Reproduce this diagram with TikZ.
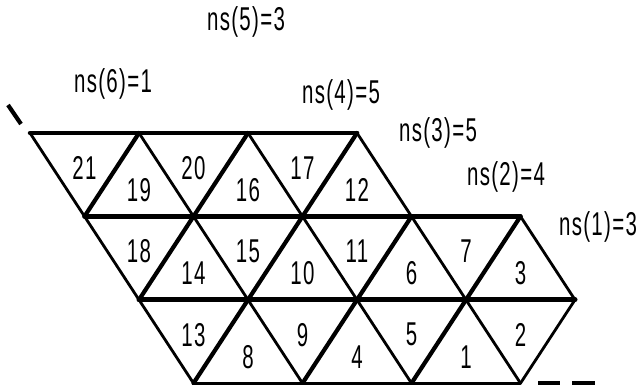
\documentclass[tikz,border=0pt]{standalone}
\usepackage{fontspec}
\setmainfont{Liberation Sans}[FakeStretch=0.62, LetterSpace=4]
\begin{document}
\begin{tikzpicture}[x=1pt,y=-1pt,
  thinedge/.style={line width=2.8pt, line cap=round},
  thickedge/.style={line width=4.2pt, line cap=round},
  rowedge/.style={line width=4.5pt, line cap=round},
  baseedge/.style={line width=2.6pt, line cap=round},
  markedge/.style={line width=4.2pt},
  lab/.style={inner sep=0pt, font=\fontsize{33}{33}\selectfont}]
\useasboundingbox (0,0) rectangle (640,385);
% vertices
\foreach \r/\n in {0/3,1/4,2/4,3/3}
  \foreach \i in {0,...,\n}
    \coordinate (v\r\i) at ({30+\r*54.5+\i*109},{133+\r*83.4});
% "\" edges
\foreach \a/\b in {00/10,01/11,02/12,03/13,10/20,11/21,12/22,13/23,14/24,20/30,21/31,22/32,23/33}
  \draw[thinedge] (v\a) -- (v\b);
% "/" edges
\draw[thinedge] (v24) -- (v33);
\foreach \a/\b in {01/10,02/11,03/12,11/20,12/21,13/22,14/23,21/30,22/31,23/32}
  \draw[thickedge] (v\a) -- (v\b);
% horizontal edges
\draw[rowedge] (v00) -- (v03);
\draw[rowedge] (v10) -- (v14);
\draw[rowedge, line width=5pt] (v20) -- (v24);
\draw[baseedge] (v30) -- (v33);
% stray marks
\coordinate (m1) at (8,105);
\coordinate (m2) at (21,124);
\draw[markedge] (m1) -- (m2);
\coordinate (d1) at (538,383.5);
\coordinate (d2) at (560,383.5);
\coordinate (d3) at (572,383.5);
\coordinate (d4) at (595,383.5);
\draw[line width=5pt] (d1) -- (d2);
\draw[line width=5pt] (d3) -- (d4);
% triangle labels
\foreach \r/\i/\t in {0/0/21,0/1/20,0/2/17,1/0/18,1/1/15,1/2/11,1/3/7,2/0/13,2/1/9,2/2/5,2/3/2}
  \node[lab] (t\t) at ({84.5+\r*54.5+\i*109},{168+\r*83.4}) {\t};
\foreach \r/\i/\t in {0/1/19,0/2/16,0/3/12,1/1/14,1/2/10,1/3/6,1/4/3,2/1/8,2/2/4,2/3/1}
  \node[lab] (t\t) at ({30+\r*54.5+\i*109},{190+\r*83.4}) {\t};
% strip counts
\node[lab] (ns5) at (246,22) {ns(5)=3};
\node[lab] (ns6) at (113,84) {ns(6)=1};
\node[lab] (ns4) at (341,95) {ns(4)=5};
\node[lab] (ns3) at (438,133) {ns(3)=5};
\node[lab] (ns2) at (506,177) {ns(2)=4};
\node[lab] (ns1) at (598,227) {ns(1)=3};
\end{tikzpicture}
\end{document}
